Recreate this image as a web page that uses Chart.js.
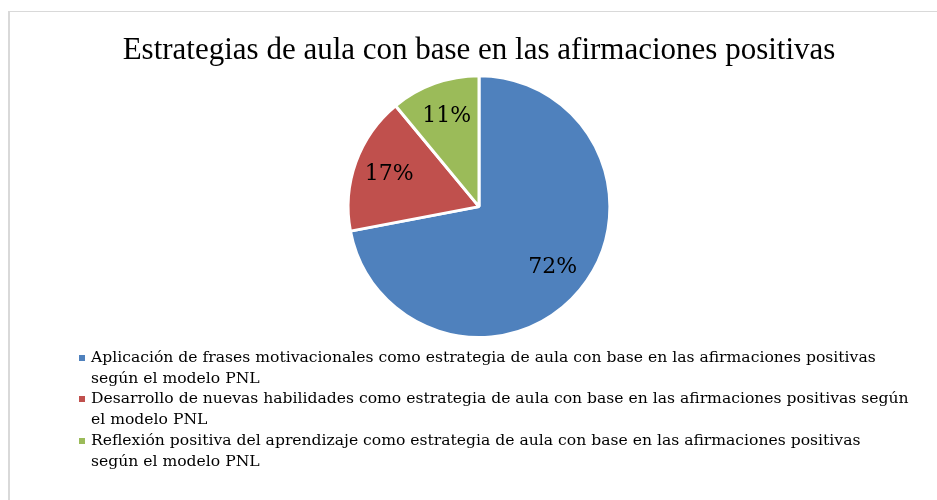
<!DOCTYPE html>
<html>
<head>
<meta charset="utf-8">
<script src="https://cdn.jsdelivr.net/npm/chart.js@4.4.1/dist/chart.umd.min.js"></script>
<style>
  html, body { margin: 0; padding: 0; background: #fff; }
  #wrap { position: relative; width: 937px; height: 500px; overflow: hidden; }
  #frame { position: absolute; left: 8px; top: 11px; width: 1000px; height: 600px;
           border-left: 2px solid #d9d9d9; border-top: 1px solid #d9d9d9; }
  canvas { position: absolute; left: 0; top: 0; }
  #legend { position: absolute; left: 78px; top: 347px; width: 830px;
            font-family: "DejaVu Serif", serif; font-size: 15.6px; line-height: 20.7px; color: #000; }
  #legend .item { position: relative; padding-left: 13px; }
  #legend .box { position: absolute; left: 1px; top: 8px; width: 6px; height: 6px; }
</style>
</head>
<body>
<div id="wrap">
  <div id="frame"></div>
  <canvas id="pie" width="937" height="500"></canvas>
  <div id="legend"></div>
</div>
<script>
const titleText = "Estrategias de aula con base en las afirmaciones positivas";
const categories = [
  "Aplicación de frases motivacionales como estrategia de aula con base en las afirmaciones positivas según el modelo PNL",
  "Desarrollo de nuevas habilidades como estrategia de aula con base en las afirmaciones positivas según el modelo PNL",
  "Reflexión positiva del aprendizaje como estrategia de aula con base en las afirmaciones positivas según el modelo PNL"
];
const percents = [72, 17, 11];
const colors = ["#4f81bd", "#c0504d", "#9bbb59"];

// percentage labels inside the slices
const sliceLabels = {
  id: "sliceLabels",
  afterDatasetsDraw(chart) {
    const ctx = chart.ctx;
    const meta = chart.getDatasetMeta(0);
    ctx.save();
    ctx.font = "22px 'DejaVu Serif'";
    ctx.fillStyle = "#000";
    ctx.textAlign = "center";
    ctx.textBaseline = "middle";
    meta.data.forEach((arc, i) => {
      const p = arc.getProps(["x", "y", "startAngle", "endAngle", "outerRadius"], true);
      const mid = (p.startAngle + p.endAngle) / 2;
      const r = p.outerRadius * 0.73;
      ctx.fillText(percents[i] + "%", p.x + Math.cos(mid) * r, p.y + Math.sin(mid) * r);
    });
    ctx.restore();
  }
};

const chart = new Chart(document.getElementById("pie"), {
  type: "pie",
  data: {
    labels: categories,
    datasets: [{
      data: percents,
      backgroundColor: colors,
      borderColor: "#ffffff",
      borderWidth: 3
    }]
  },
  options: {
    responsive: false,
    animation: false,
    layout: { padding: { left: 21, right: 0, top: 0, bottom: 161 } },
    plugins: {
      legend: { display: false },
      tooltip: { enabled: false },
      title: {
        display: true,
        text: titleText,
        color: "#000",
        font: { family: "Liberation Serif", size: 31, weight: "normal", lineHeight: 1.2 },
        padding: { top: 32, bottom: 5 }
      }
    }
  },
  plugins: [sliceLabels]
});

// legend built from the chart data
const legend = document.getElementById("legend");
chart.data.labels.forEach((label, i) => {
  const item = document.createElement("div");
  item.className = "item";
  const box = document.createElement("span");
  box.className = "box";
  box.style.background = chart.data.datasets[0].backgroundColor[i];
  item.appendChild(box);
  item.appendChild(document.createTextNode(label));
  legend.appendChild(item);
});

// wrap width: 2nd entry keeps "según" on its first line, the others don't
const mctx = document.createElement("canvas").getContext("2d");
mctx.font = "15.6px 'DejaVu Serif'";
const head = s => s.slice(0, s.indexOf(" según"));
const w2 = mctx.measureText(head(categories[1]) + " según").width;
const w3 = mctx.measureText(head(categories[2]) + " según").width;
legend.style.width = Math.ceil(13 + (w2 + w3) / 2) + "px";
</script>
</body>
</html>
